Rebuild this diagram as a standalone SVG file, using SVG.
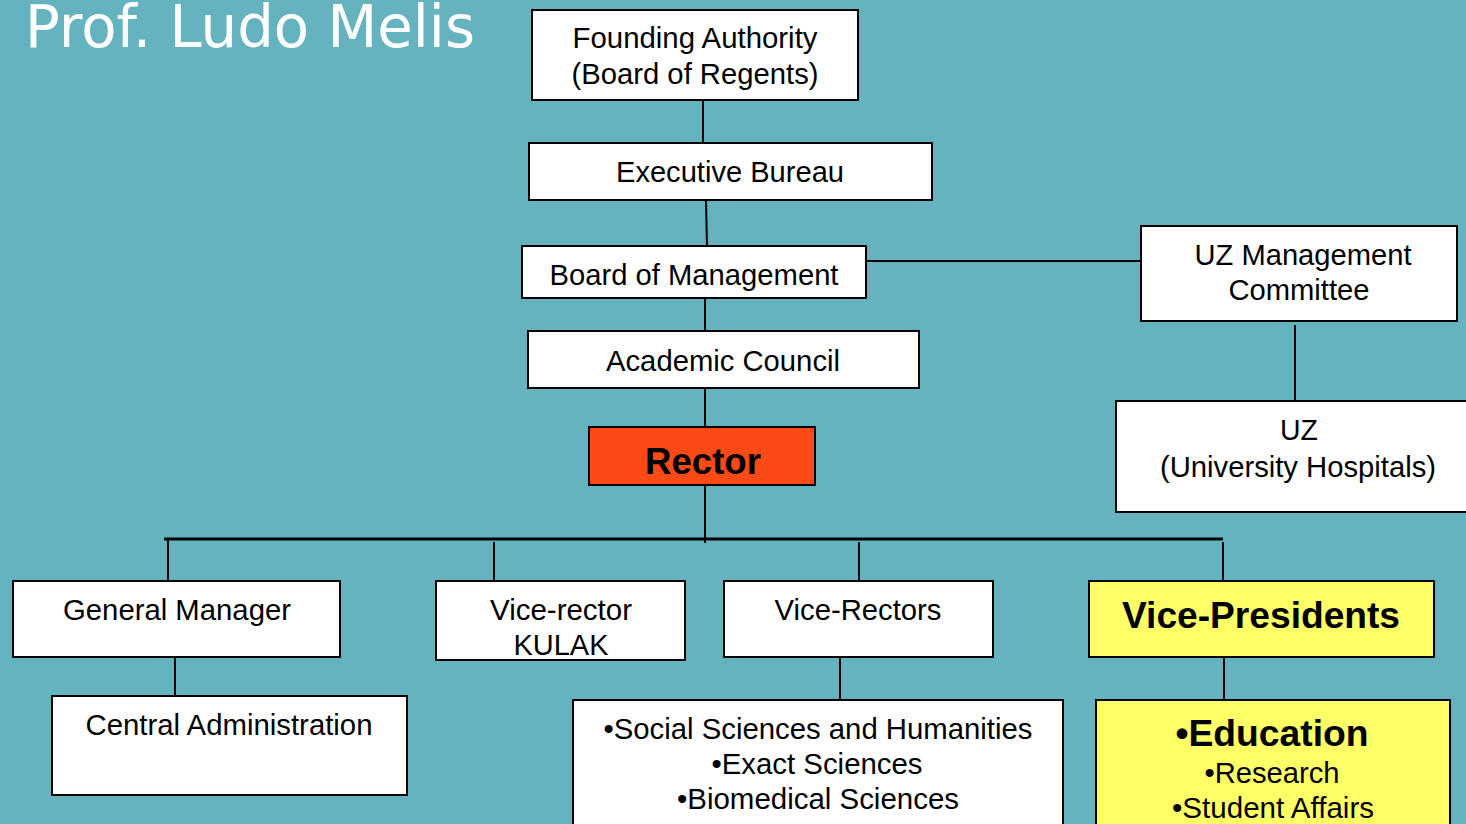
<svg xmlns="http://www.w3.org/2000/svg" width="1466" height="824" viewBox="0 0 1466 824">
<style>
.box{fill:#fff;stroke:#000;stroke-width:2}
.red{fill:#FB4A15;stroke:#000;stroke-width:2}
.yel{fill:#FFFF66;stroke:#000;stroke-width:2}
.t{font-family:"Liberation Sans",Arial,sans-serif;font-size:29px;fill:#000;text-anchor:middle}
.b{font-weight:bold;font-size:37px}
.ln{stroke:#000;stroke-width:2;fill:none}
.bar{stroke:#000;stroke-width:3;fill:none}
</style>
<rect width="1466" height="824" fill="#64B3BE"/>
<text x="25" y="47" font-family="DejaVu Sans,Verdana,sans-serif" font-size="58" fill="#fff" textLength="450" lengthAdjust="spacingAndGlyphs">Prof. Ludo Melis</text>
<g id="connectors">
<line class="ln" x1="703" y1="100" x2="703" y2="143"/>
<line class="ln" x1="706" y1="200" x2="707" y2="246"/>
<line class="ln" x1="866" y1="261" x2="1141" y2="261"/>
<line class="ln" x1="1295" y1="325" x2="1295" y2="401"/>
<line class="ln" x1="705" y1="298" x2="705" y2="331"/>
<line class="ln" x1="705" y1="388" x2="705" y2="427"/>
<line class="ln" x1="705" y1="485" x2="705" y2="543"/>
<line class="bar" x1="164" y1="539" x2="1223" y2="539"/>
<line class="ln" x1="168" y1="539" x2="168" y2="581"/>
<line class="ln" x1="494" y1="542" x2="494" y2="581"/>
<line class="ln" x1="859" y1="542" x2="859" y2="581"/>
<line class="ln" x1="1223" y1="542" x2="1223" y2="581"/>
<line class="ln" x1="175" y1="657" x2="175" y2="696"/>
<line class="ln" x1="840" y1="657" x2="840" y2="700"/>
<line class="ln" x1="1224" y1="657" x2="1224" y2="700"/>
</g>
<g id="founding">
<rect class="box" x="532" y="10" width="326" height="90"/>
<text class="t" x="695" y="48" textLength="245" lengthAdjust="spacingAndGlyphs">Founding Authority</text>
<text class="t" x="695" y="84" textLength="247" lengthAdjust="spacingAndGlyphs">(Board of Regents)</text>
</g>
<g id="executive">
<rect class="box" x="529" y="143" width="403" height="57"/>
<text class="t" x="730" y="182" textLength="228" lengthAdjust="spacingAndGlyphs">Executive Bureau</text>
</g>
<g id="board">
<rect class="box" x="522" y="246" width="344" height="52"/>
<text class="t" x="694" y="285" textLength="289" lengthAdjust="spacingAndGlyphs">Board of Management</text>
</g>
<g id="uzmc">
<rect class="box" x="1141" y="226" width="316" height="95"/>
<text class="t" x="1303" y="265" textLength="217" lengthAdjust="spacingAndGlyphs">UZ Management</text>
<text class="t" x="1299" y="300" textLength="141" lengthAdjust="spacingAndGlyphs">Committee</text>
</g>
<g id="uz">
<rect class="box" x="1116" y="401" width="360" height="111"/>
<text class="t" x="1299" y="440" textLength="38" lengthAdjust="spacingAndGlyphs">UZ</text>
<text class="t" x="1298" y="477" textLength="276" lengthAdjust="spacingAndGlyphs">(University Hospitals)</text>
</g>
<g id="academic">
<rect class="box" x="528" y="331" width="391" height="57"/>
<text class="t" x="723" y="371" textLength="234" lengthAdjust="spacingAndGlyphs">Academic Council</text>
</g>
<g id="rector">
<rect class="red" x="589" y="427" width="226" height="58"/>
<text class="t b" x="703" y="474" font-size="36" textLength="116" lengthAdjust="spacingAndGlyphs">Rector</text>
</g>
<g id="gm">
<rect class="box" x="13" y="581" width="327" height="76"/>
<text class="t" x="177" y="620" textLength="228" lengthAdjust="spacingAndGlyphs">General Manager</text>
</g>
<g id="central">
<rect class="box" x="52" y="696" width="355" height="99"/>
<text class="t" x="229" y="735" textLength="287" lengthAdjust="spacingAndGlyphs">Central Administration</text>
</g>
<g id="kulak">
<rect class="box" x="436" y="581" width="249" height="79"/>
<text class="t" x="561" y="620" textLength="142" lengthAdjust="spacingAndGlyphs">Vice-rector</text>
<text class="t" x="561" y="655" textLength="95" lengthAdjust="spacingAndGlyphs">KULAK</text>
</g>
<g id="vicerectors">
<rect class="box" x="724" y="581" width="269" height="76"/>
<text class="t" x="858" y="620" textLength="167" lengthAdjust="spacingAndGlyphs">Vice-Rectors</text>
</g>
<g id="sciences">
<rect class="box" x="573" y="700" width="490" height="130"/>
<text class="t" x="818" y="739" textLength="429" lengthAdjust="spacingAndGlyphs">•Social Sciences and Humanities</text>
<text class="t" x="817" y="774" textLength="211" lengthAdjust="spacingAndGlyphs">•Exact Sciences</text>
<text class="t" x="818" y="809" textLength="282" lengthAdjust="spacingAndGlyphs">•Biomedical Sciences</text>
</g>
<g id="vicepresidents">
<rect class="yel" x="1089" y="581" width="345" height="76"/>
<text class="t b" x="1261" y="628" textLength="278" lengthAdjust="spacingAndGlyphs">Vice-Presidents</text>
</g>
<g id="education">
<rect class="yel" x="1096" y="700" width="354" height="130"/>
<text class="t b" x="1272" y="746" textLength="193" lengthAdjust="spacingAndGlyphs">•Education</text>
<text class="t" x="1272" y="783" textLength="135" lengthAdjust="spacingAndGlyphs">•Research</text>
<text class="t" x="1273" y="818" textLength="202" lengthAdjust="spacingAndGlyphs">•Student Affairs</text>
</g>
</svg>
